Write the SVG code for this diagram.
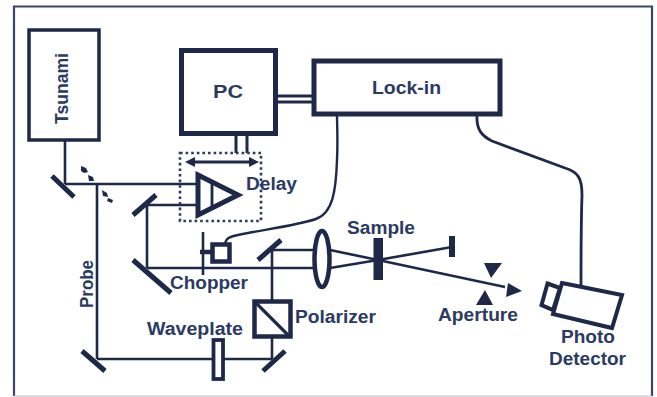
<svg xmlns="http://www.w3.org/2000/svg" width="657" height="397" viewBox="0 0 657 397">
<style>
text{font-family:"Liberation Sans",Arial,sans-serif;font-weight:700;font-size:18px;fill:#2b3a63}
.b{fill:none;stroke:#1e2848}
.w{fill:#fff;stroke:#1e2848}
.l{fill:none;stroke:#1e2848;stroke-width:2.600}
.m{fill:none;stroke:#1e2848;stroke-width:5}
.k{fill:#1e2848;stroke:none}
</style>
<rect width="657" height="397" fill="#fff"/>
<g id="frame">
<path d="M14 396V6.500H652V396" fill="none" stroke="#3a4568" stroke-width="2.200"/>
<path d="M14 396H652" fill="none" stroke="#b9bcc2" stroke-width="1.200"/>
</g>
<g id="connectors">
<path class="l" d="M65 139V184M65 184H197M97 184V359M97 359H272M272 359V250M272 250H315M147 205H197M147 205V268M147 268H315"/>
<path class="l" d="M330 250L378 260L505 287"/>
<path class="k" d="M522 291L506 297L508 283z"/>
<path class="l" d="M330 268L378 260L452 247"/>
<path class="b" stroke-width="3" d="M275 96H313M275 102H313M236 133V153M247 133V153"/>
<path class="b" stroke-width="2.400" d="M225 244C226 238 229 237 238 235C260 230 295 226 316 219C333 213 336 190 337 160C338 140 337 125 337 114"/>
<path class="b" stroke-width="2.800" d="M477 114C476 130 482 136 492 141L565 168C578 172 582 178 582 195C581 225 581 260 581 285"/>
</g>
<g id="tsunami"><rect class="w" x="29" y="30" width="70" height="110" stroke-width="3.500"/><text transform="translate(67.500 124) rotate(-90)" textLength="71" lengthAdjust="spacingAndGlyphs">Tsunami</text></g>
<g id="pc"><rect class="w" x="181.500" y="50.500" width="94" height="83" stroke-width="5"/><text x="213" y="98" textLength="30" lengthAdjust="spacingAndGlyphs">PC</text></g>
<g id="lockin"><rect class="w" x="314" y="61" width="186" height="53" stroke-width="5"/><text x="372" y="94" textLength="69" lengthAdjust="spacingAndGlyphs">Lock-in</text></g>
<g id="delay">
<rect x="180" y="153" width="81" height="68" fill="none" stroke="#2b3a63" stroke-width="2.600" stroke-dasharray="2.600 3"/>
<path class="b" stroke-width="2.800" d="M191 162H252"/>
<path class="k" d="M185 162L195 157V167zM259 162L249 157V167z"/>
<path class="b" stroke-width="5" d="M198 175L238 195L198 215z"/>
<path class="b" stroke-width="2.800" d="M212 183V207"/>
<text x="246" y="190" textLength="51" lengthAdjust="spacingAndGlyphs">Delay</text>
</g>
<g id="mirrors">
<path class="m" d="M52 176L74 197M133 215L156 195M133 260L171 293M82 351L105 371M258 260L281 240M263 371L285 351"/>
<path class="k" d="M81 166L86 168L88 172L84 173L81 171zM88 175L93 177L94 181L89 181zM102 190L107 193L108 197L103 196zM108 198L113 200L112 203L107 201z"/>
</g>
<g id="chopper">
<path class="b" stroke-width="2.600" d="M203 232V275"/>
<path class="b" stroke-width="4.500" d="M200 252H212"/>
<rect class="w" x="212.500" y="244.500" width="17" height="17" stroke-width="4.500"/>
<text x="170" y="289" textLength="78" lengthAdjust="spacingAndGlyphs">Chopper</text>
</g>
<g id="lens"><ellipse class="w" cx="322" cy="259" rx="7.500" ry="28" stroke-width="4.500"/></g>
<g id="polarizer"><rect class="w" x="254.500" y="301.500" width="36" height="35" stroke-width="4.500"/><path class="b" stroke-width="3.200" d="M255 302L288 335"/><text x="295" y="323" textLength="81" lengthAdjust="spacingAndGlyphs">Polarizer</text></g>
<g id="waveplate"><rect class="w" x="213.500" y="340" width="9.500" height="39" stroke-width="3.800"/><text x="147" y="335" textLength="96" lengthAdjust="spacingAndGlyphs">Waveplate</text></g>
<g id="probe"><text transform="translate(92.500 308) rotate(-90)" textLength="48" lengthAdjust="spacingAndGlyphs">Probe</text></g>
<g id="sample"><rect class="k" x="373.500" y="238" width="9.500" height="42"/><rect class="k" x="449" y="236" width="6" height="21"/><text x="347" y="234" textLength="68" lengthAdjust="spacingAndGlyphs">Sample</text></g>
<g id="aperture"><path class="k" d="M484 263H502L491 278zM476 305H493L485 290z"/><text x="438" y="321" textLength="80" lengthAdjust="spacingAndGlyphs">Aperture</text></g>
<g id="detector">
<path class="w" stroke-width="4" d="M547.500 283.500L560 288L553 310L541.500 305z"/>
<path class="w" stroke-width="4" d="M562 283L622 295L612 328L553 314z"/>
<text x="561" y="343" textLength="54" lengthAdjust="spacingAndGlyphs">Photo</text>
<text x="549" y="365" textLength="77" lengthAdjust="spacingAndGlyphs">Detector</text>
</g>
</svg>
